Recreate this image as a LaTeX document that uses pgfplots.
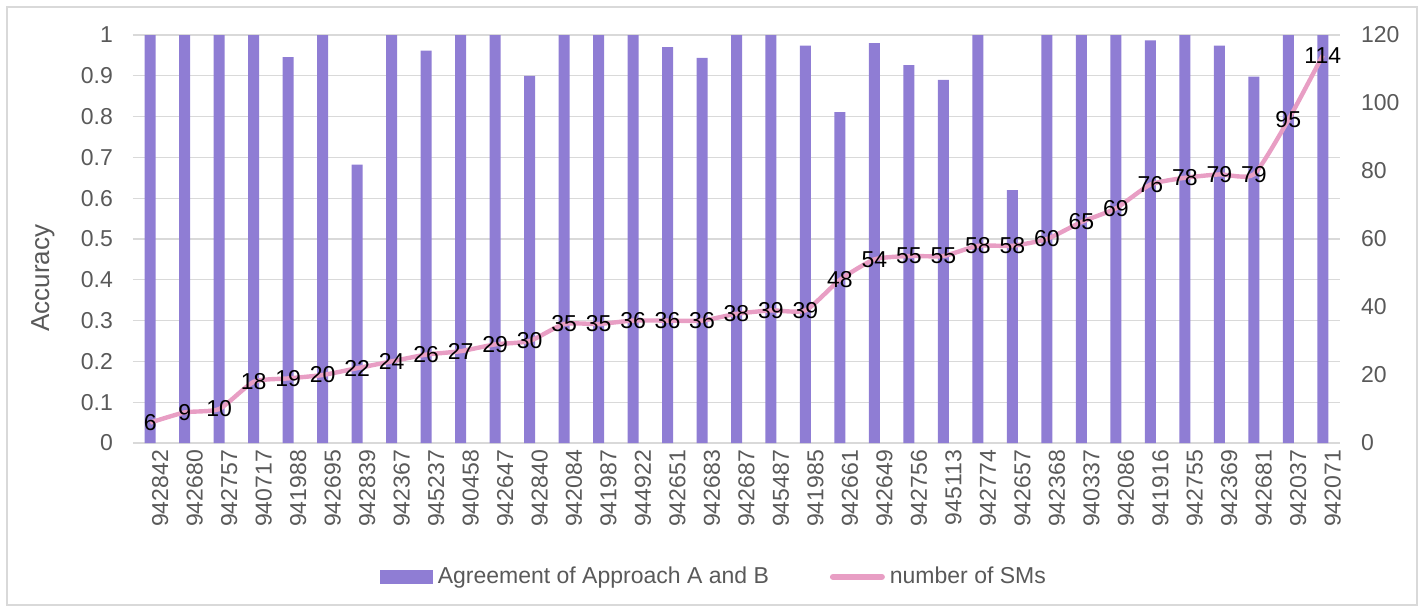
\documentclass[border=0pt]{standalone}
\usepackage{fontspec}
\setmainfont{Liberation Sans}
\usepackage{pgfplots}
\usepackage{pgfplotstable}
\pgfplotsset{compat=1.18}

\definecolor{balken}{RGB}{143,125,212}
\definecolor{linie}{RGB}{232,158,196}
\definecolor{achse}{HTML}{595959}
\definecolor{gitter}{HTML}{D9D9D9}

\newcommand{\tickfont}{\fontsize{11.5}{12}\selectfont}

% x = Position, acc = Agreement A/B, sms = number of SMs
\pgfplotstableread{
x  acc    sms
0  1      6
1  1      9
2  1      10
3  1      18
4  0.946  19
5  1      20
6  0.682  22
7  1      24
8  0.962  26
9  1      27
10 1      29
11 0.900  30
12 1      35
13 1      35
14 1      36
15 0.970  36
16 0.944  36
17 1      38
18 1      39
19 0.974  39
20 0.811  48
21 0.980  54
22 0.926  55
23 0.890  55
24 1      58
25 0.620  58
26 1      60
27 1      65
28 1      69
29 0.987  76
30 1      78
31 0.974  79
32 0.898  79
33 1      95
34 1      114
}\daten

\pgfplotsset{
  gemeinsam/.style={
    at={(66.5pt,84.5pt)}, anchor=south west,
    scale only axis, width=603.5pt, height=204pt,
    xmin=-0.5, xmax=34.5,
    axis line style={draw=none}, major tick length=0pt,
    ticklabel style={font=\tickfont, text=achse},
    /pgf/number format/assume math mode=true,
  }
}

\begin{document}
\begin{tikzpicture}
\useasboundingbox (0,0) rectangle (712pt,306pt);
\draw[gitter, line width=0.6pt] (3.5pt,3.5pt) rectangle (708.5pt,302.5pt);

\begin{axis}[
  gemeinsam,
  ymin=0, ymax=1,
  ytick={0,0.1,0.2,0.3,0.4,0.5,0.6,0.7,0.8,0.9,1},
  yticklabels={0,0.1,0.2,0.3,0.4,0.5,0.6,0.7,0.8,0.9,1},
  xtick={0,...,34},
  xticklabels={942842,942680,942757,940717,941988,942695,942839,942367,945237,940458,942647,942840,942084,941987,944922,942651,942683,942687,945487,941985,942661,942649,942756,945113,942774,942657,942368,940337,942086,941916,942755,942369,942681,942037,942071},
  xticklabel style={rotate=90, anchor=east, yshift=-5pt},
  yticklabel style={xshift=-6.5pt},
  ymajorgrids, grid style={gitter, line width=0.6pt},
  ylabel={Accuracy},
  every axis y label/.style={at={(axis description cs:-0.0746,0.404)}, rotate=90, anchor=center, font=\fontsize{13}{14}\selectfont, text=achse},
]
\addplot[ybar, bar width=5.5pt, fill=balken, draw=none] table[x=x, y=acc]{\daten};
\end{axis}

\begin{axis}[
  gemeinsam,
  ymin=0, ymax=120,
  ytick={0,20,40,60,80,100,120},
  axis y line*=right,
  xtick=\empty,
  yticklabel style={xshift=7pt},
  legend columns=2,
  legend cell align=left,
  legend style={at={(axis description cs:0.2046,-0.328)}, anchor=west, draw=none, fill=none,
    inner sep=0pt, outer sep=0pt,
    nodes={inner sep=2.5pt, text=achse, font=\fontsize{11.5}{12}\selectfont},
    /tikz/every even column/.append style={column sep=28pt}},
]
\addlegendimage{legend image code/.code={\fill[balken] (0pt,-3.25pt) rectangle (26pt,3.25pt);}}
\addlegendentry{Agreement of Approach A and B}
\addplot[linie, line width=2.2pt, smooth, tension=0.35,
  legend image code/.code={\draw[linie, line width=3pt, line cap=round] (1.5pt,0pt) -- (26pt,0pt);},
  nodes near coords,
  nodes near coords style={font=\tickfont, text=black, anchor=center, inner sep=0pt,
    /pgf/number format/.cd, fixed, precision=0},
] table[x=x, y=sms]{\daten};
\addlegendentry{number of SMs}
\end{axis}
\end{tikzpicture}
\end{document}
